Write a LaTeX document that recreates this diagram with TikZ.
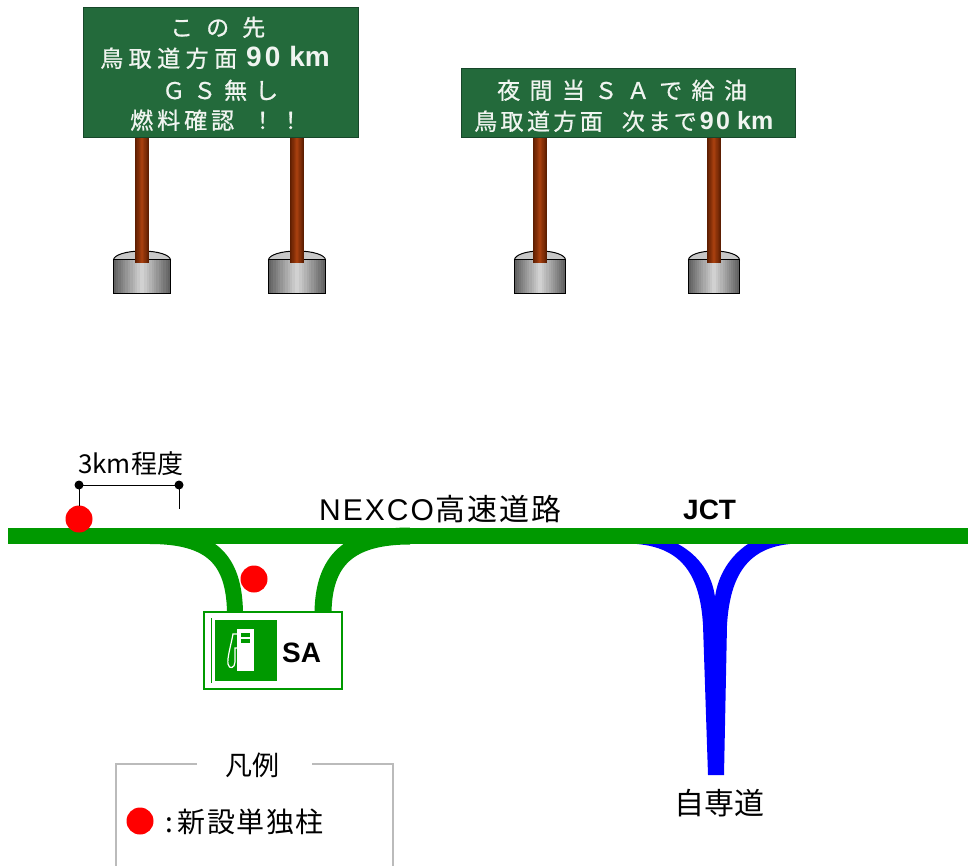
\documentclass[tikz,border=0pt]{standalone}
\usepackage{fontspec}
\setmainfont{Liberation Sans}
\newfontfamily\jp{Noto Sans CJK JP}
\newfontfamily\jps[FakeBold=0.8]{Noto Sans CJK JP}
\usetikzlibrary{calc}

\definecolor{signgreen}{HTML}{236A3B}
\definecolor{signedge}{HTML}{17472A}
\definecolor{signtext}{HTML}{F0F4F0}
\definecolor{road}{HTML}{009900}
\definecolor{jctblue}{HTML}{0000FF}
\definecolor{postmid}{HTML}{A8400F}
\definecolor{postdark}{HTML}{5A1C00}
\definecolor{baselight}{HTML}{D6D6D6}
\definecolor{basedark}{HTML}{5E5E5E}
\definecolor{basetop}{HTML}{C8C8C8}
\definecolor{legendgray}{HTML}{BBBBBB}

% set a run of characters with a fixed gap between them
\makeatletter
\newcommand\trackchars[2]{\def\tc@gap{#1}\let\tc@sep\relax
  \@tfor\tc@c:=#2\do{\tc@sep\tc@c\def\tc@sep{\hspace{\tc@gap}}}}
\makeatother

% horizontal gradient, light in the middle and dark at both sides,
% built from thin strips: x1, y1, x2, y2, light colour, dark colour
\newcommand\hgrad[6]{%
  \foreach \i in {0,...,23}{%
    \pgfmathsetmacro\gxa{#1+(#3-#1)*\i/24}%
    \pgfmathsetmacro\gxb{#1+(#3-#1)*(\i+1.4)/24}%
    \pgfmathsetmacro\gxb{min(\gxb,#3)}%
    \pgfmathsetmacro\gmix{abs((\i+0.5)/12-1)*100}%
    \fill[#6!\gmix!#5] (\gxa,#2) rectangle (\gxb,#4);
  }}

\tikzset{
  signboard/.style={fill=signgreen, draw=signedge, line width=1pt},
  signtxt/.style={anchor=base west, inner sep=0pt, text=signtext,
    font=\fontsize{23}{27}\selectfont},
  lbl/.style={anchor=base west, inner sep=0pt, text=black},
  reddot/.style={circle, fill=red, inner sep=0pt, minimum size=27pt},
  dimdot/.style={circle, fill=black, inner sep=0pt, minimum size=9pt},
  roadline/.style={draw=road},
  % pedestal with its post; argument = half width of the pedestal
  stand/.pic={
    \fill[fill=basetop, draw=black, line width=1pt] (0,260) ellipse [x radius=#1, y radius=9];
    \hgrad{-#1}{260}{#1}{294}{baselight}{basedark}
    \draw[black, line width=1pt] (-#1,260) rectangle (#1,294);
    \hgrad{-7}{138}{7}{263}{postmid}{postdark}
  }
}

\begin{document}
\begin{tikzpicture}[x=1pt,y=-1pt]
\useasboundingbox (0,0) rectangle (968,866);

% ---- first sign board
\draw[signboard] (83,8) rectangle (358,138);
\node[signtxt] (s1l1) at (170,36) {\jps\trackchars{13pt}{この先}};
\node[signtxt] (s1l2) at (100,67) {{\jps\trackchars{5.5pt}{鳥取道方面}}\hspace{9pt}{\fontsize{28}{32}\selectfont\bfseries 9\hspace{3pt}0\hspace{9pt}km}};
\node[signtxt] (s1l3) at (162,99) {\jps\trackchars{8pt}{ＧＳ無し}};
\node[signtxt] (s1l4) at (130,129) {\jps\trackchars{4pt}{燃料確認}\hspace{17pt}！\hspace{5pt}！};
\pic at (142,0) {stand=28.5};
\pic at (297,0) {stand=28.5};

% ---- second sign board
\draw[signboard] (461,69) rectangle (795,138);
\node[signtxt] (s2l1) at (497,99) {\jps\trackchars{9.4pt}{夜間当ＳＡで給油}};
\node[signtxt] (s2l2) at (474,130) {{\jps\trackchars{3.4pt}{鳥取道方面}}\hspace{19pt}{\jps\trackchars{3pt}{次まで}}\hspace{3pt}{\fontsize{25}{30}\selectfont\bfseries 9\hspace{2.5pt}0\hspace{7pt}km}};
\pic at (540,0) {stand=25.5};
\pic at (714,0) {stand=25.5};

% ---- junction branch (drawn below the main line)
\fill[jctblue] (637,544) .. controls (682,548) and (700,575) .. (703,625)
  -- (708,775) -- (724,775) -- (727,625)
  .. controls (730,575) and (748,548) .. (790,544)
  -- (748,544) .. controls (730,556) and (718,575) .. (715,597)
  .. controls (712,575) and (700,556) .. (678,544) -- cycle;

% ---- service area ramps
\draw[roadline, line width=16] (150,536) .. controls (212,536) and (234,560) .. (235,612);
\draw[roadline, line width=17] (410,536) .. controls (349,536) and (324,560) .. (323,612);

% ---- main expressway
\fill[road] (8,528) rectangle (968,544);

% ---- service area sign
\draw[road, line width=1.5pt, fill=white] (204,612) rectangle (342,689);
\draw[road, line width=1pt] (211,618) -- (211,683);
\fill[road] (215,620) rectangle (277,681);
\fill[white] (237,629) rectangle (254,671);
\fill[road] (241,633) rectangle (250,637);
\fill[road] (241,639) rectangle (250,643);
\draw[white, line width=1.2pt] (237,634) -- (233,634)
  .. controls (231,645) and (227,658) .. (228,664)
  .. controls (229,670) and (235,668) .. (235,662) -- (235,648) -- (237,648);
\node[lbl, font=\fontsize{28}{32}\selectfont\bfseries] (sa) at (282,662) {SA};

% ---- new single posts and their spacing
\node[reddot] (p1) at (79,519) {};
\node[reddot] (p2) at (254,579) {};
\node[dimdot] (d1) at (79,485) {};
\node[dimdot] (d2) at (179,485) {};
\coordinate (d1foot) at (79,506);
\coordinate (d2foot) at (179,509);
\draw[line width=1pt] (d1.center) -- (d2.center);
\draw[line width=1pt] (d1.center) -- (d1foot);
\draw[line width=1pt] (d2.center) -- (d2foot);
\node[lbl, font=\fontsize{26}{30}\selectfont\jp] (dist) at (78,473) {3km程度};

% ---- road names
\node[lbl, font=\fontsize{30}{34}\selectfont] (nexco) at (319,520) {\trackchars{2pt}{NEXCO}\hspace{2pt}{\jp\trackchars{2pt}{高速道路}}};
\node[lbl, font=\fontsize{28}{32}\selectfont\bfseries] (jct) at (683,519) {JCT};
\node[lbl, font=\fontsize{30}{34}\selectfont\jp] (jisen) at (674,814) {自専道};

% ---- legend
\draw[legendgray, line width=2pt] (197,764) -- (116,764) -- (116,866);
\draw[legendgray, line width=2pt] (312,764) -- (393,764) -- (393,866);
\node[lbl, font=\fontsize{27}{32}\selectfont\jp] (legtitle) at (225,775) {凡例};
\node[reddot] (legdot) at (140,821) {};
\node[lbl, font=\fontsize{28}{32}\selectfont\jp] (legtext) at (165,832) {:\hspace{5pt}\trackchars{1.5pt}{新設単独柱}};
\end{tikzpicture}
\end{document}
